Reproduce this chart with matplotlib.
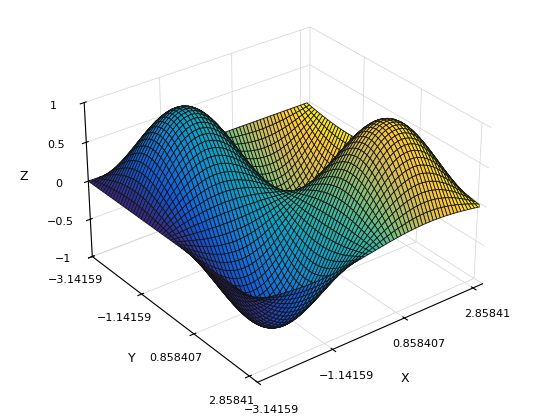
import numpy as np
import matplotlib
matplotlib.use('Agg')
import matplotlib.pyplot as plt
from matplotlib.colors import LinearSegmentedColormap, Normalize

# grid as in the original: -pi:0.1:pi
x = np.arange(-np.pi, np.pi + 1e-9, 0.1)
y = np.arange(-np.pi, np.pi + 1e-9, 0.1)
X, Y = np.meshgrid(x, y)
Z = np.sin(X) * np.sin(Y)
C = X + Z

ticks_xy = [-3.14159, -1.14159, 0.858407, 2.85841]
tick_labels_xy = ['\u22123.14159', '\u22121.14159', '0.858407', '2.85841']
ticks_z = [-1, -0.5, 0, 0.5, 1]
tick_labels_z = ['\u22121', '\u22120.5', '0', '0.5', '1']

parula = LinearSegmentedColormap.from_list('parula', [
    '#352a87', '#0f5cdd', '#1481d6', '#06a4ca', '#2eb7a4',
    '#87bf77', '#d1bb59', '#fec832', '#f9fb0e'])

plt.rcParams['font.family'] = ['DejaVu Sans']
fig = plt.figure(figsize=(5.6, 4.2), dpi=100)
ax = fig.add_axes([0, 0.05, 1, 0.95], projection='3d')
fc = parula(Normalize(C.min(), C.max())(C))
ax.plot_surface(X, Y, Z, facecolors=fc, edgecolor='#151515', linewidth=0.6,
                rstride=1, cstride=1, shade=False, antialiased=True)
ax.view_init(elev=30, azim=-127.5)
ax.set_box_aspect((1, 1, 0.63), zoom=1.07)
ax.set_xlim(-np.pi, np.pi)
ax.set_ylim(np.pi, -np.pi)
ax.set_zlim(-1, 1)
ax.set_xticks(ticks_xy)
ax.set_xticklabels(tick_labels_xy, fontsize=8)
ax.set_yticks(ticks_xy)
ax.set_yticklabels(tick_labels_xy, fontsize=8)
ax.set_zticks(ticks_z)
ax.set_zticklabels(tick_labels_z, fontsize=8)
ax.set_xlabel('X', fontsize=9)
ax.set_ylabel('Y', fontsize=9)
ax.set_zlabel('Z', fontsize=9)
for a in (ax.xaxis, ax.yaxis, ax.zaxis):
    a.set_pane_color((1, 1, 1, 0))
    a._axinfo['grid']['color'] = (0.85, 0.85, 0.85, 1)
    a._axinfo['grid']['linewidth'] = 0.6
fig.savefig('out.png', dpi=100)
